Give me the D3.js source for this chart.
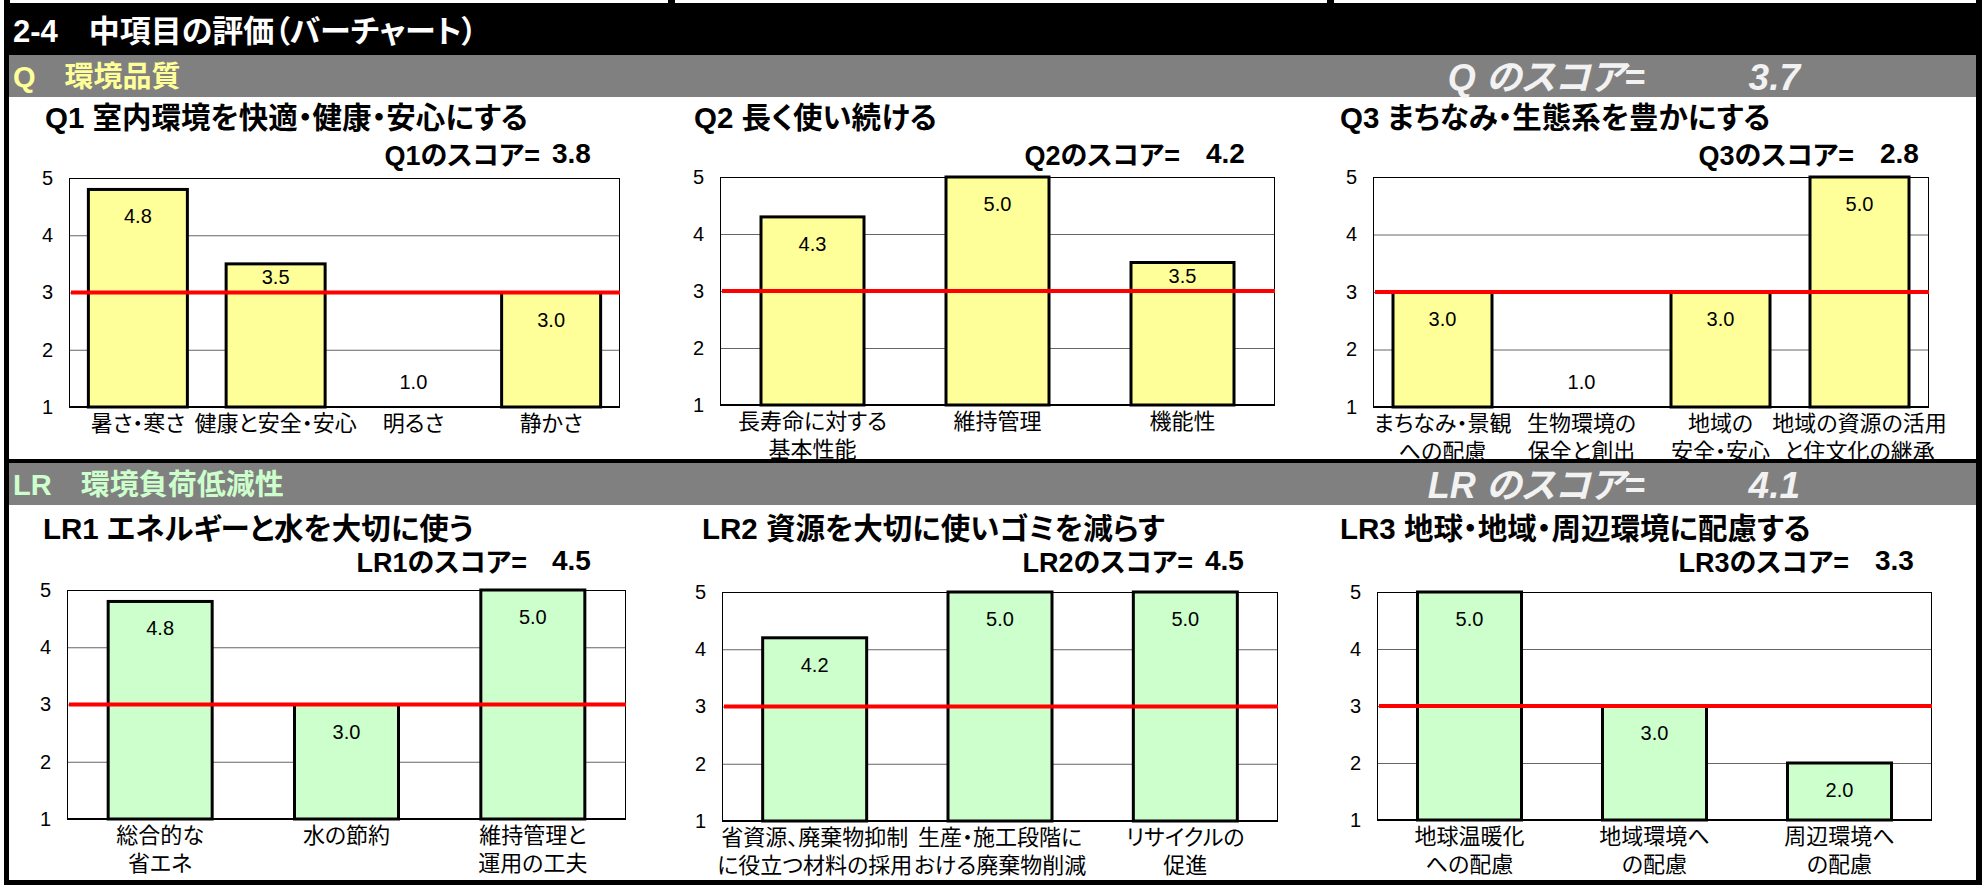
<!DOCTYPE html>
<html><head><meta charset="utf-8">
<script src="https://cdn.jsdelivr.net/npm/d3@7"></script>
<style>
html,body{margin:0;padding:0;background:#fff;}
svg{display:block;}
text{font-family:Arial,"Liberation Sans","Noto Sans CJK JP",sans-serif;font-feature-settings:"palt";}
</style></head>
<body>
<svg id="c" width="1982" height="885"></svg>
<script>
// ---------- data ----------
const pageTitle = "2-4　中項目の評価（バーチャート）";
const sectionNames = ["Q　環境品質", "LR　環境負荷低減性"];
const sectionScoreLabels = ["Q のスコア=", "LR のスコア="];
const sectionScores = [3.7, 4.1];

const chartTitles = ["Q1 室内環境を快適・健康・安心にする", "Q2 長く使い続ける", "Q3 まちなみ・生態系を豊かにする",
                     "LR1 エネルギーと水を大切に使う", "LR2 資源を大切に使いゴミを減らす", "LR3 地球・地域・周辺環境に配慮する"];
const scoreLabels = ["Q1のスコア=", "Q2のスコア=", "Q3のスコア=", "LR1のスコア=", "LR2のスコア=", "LR3のスコア="];
const chartScores = [3.8, 4.2, 2.8, 4.5, 4.5, 3.3];

const catsQ1 = ["暑さ・寒さ", "健康と安全・安心", "明るさ", "静かさ"];
const valsQ1 = [4.8, 3.5, 1.0, 3.0];
const catsQ2 = ["長寿命に対する\n基本性能", "維持管理", "機能性"];
const valsQ2 = [4.3, 5.0, 3.5];
const catsQ3 = ["まちなみ・景観\nへの配慮", "生物環境の\n保全と創出", "地域の\n安全・安心", "地域の資源の活用\nと住文化の継承"];
const valsQ3 = [3.0, 1.0, 3.0, 5.0];
const catsLR1 = ["総合的な\n省エネ", "水の節約", "維持管理と\n運用の工夫"];
const valsLR1 = [4.8, 3.0, 5.0];
const catsLR2 = ["省資源、廃棄物抑制\nに役立つ材料の採用", "生産・施工段階に\nおける廃棄物削減", "リサイクルの\n促進"];
const valsLR2 = [4.2, 5.0, 5.0];
const catsLR3 = ["地球温暖化\nへの配慮", "地域環境へ\nの配慮", "周辺環境へ\nの配慮"];
const valsLR3 = [5.0, 3.0, 2.0];

const yTicks = [1, 2, 3, 4, 5];
const referenceLevel = 3;

// ---------- layout ----------
const layout = [
  {cats: catsQ1, vals: valsQ1, left: 69,   right: 620,  top: 178, bottom: 407, titleX: 45,   lblEnd: 540,  valX: 552,  barW: 99,  fill: "#FFFF99"},
  {cats: catsQ2, vals: valsQ2, left: 720,  right: 1275, top: 177, bottom: 405, titleX: 694,  lblEnd: 1180, valX: 1206, barW: 103, fill: "#FFFF99"},
  {cats: catsQ3, vals: valsQ3, left: 1373, right: 1929, top: 177, bottom: 407, titleX: 1340, lblEnd: 1854, valX: 1880, barW: 99,  fill: "#FFFF99"},
  {cats: catsLR1, vals: valsLR1, left: 67,  right: 626,  top: 590, bottom: 819, titleX: 43,  lblEnd: 527,  valX: 552,  barW: 104, fill: "#CCFFCC"},
  {cats: catsLR2, vals: valsLR2, left: 722, right: 1278, top: 592, bottom: 821, titleX: 702, lblEnd: 1193, valX: 1205, barW: 104, fill: "#CCFFCC"},
  {cats: catsLR3, vals: valsLR3, left: 1377,right: 1932, top: 592, bottom: 820, titleX: 1340,lblEnd: 1849, valX: 1875, barW: 104, fill: "#CCFFCC"}
];
const rowTitleY = [117, 528];
const rowScoreY = [156, 563];
const bandY = [55, 463];
const bandH = 42;

const svg = d3.select("#c");
const W = 1982, H = 885;

// frame
svg.append("rect").attr("x", 0).attr("y", 0).attr("width", W).attr("height", H).attr("fill", "#fff");
svg.append("rect").attr("x", 4).attr("y", 0).attr("width", W - 4).attr("height", H).attr("fill", "#000");
svg.append("rect").attr("x", 10).attr("y", 0).attr("width", 1966).attr("height", 3).attr("fill", "#fff");
[668, 1327].forEach(x => svg.append("rect").attr("x", x).attr("y", 0).attr("width", 7).attr("height", 3).attr("fill", "#000"));

// page title
svg.append("text").attr("x", 13).attr("y", 31).attr("dominant-baseline", "central")
  .attr("fill", "#fff").attr("font-size", 31).attr("font-weight", "bold").text(pageTitle);

// section bands & white areas
svg.append("rect").attr("x", 9).attr("y", bandY[0]).attr("width", 1967).attr("height", bandH).attr("fill", "#808080");
svg.append("rect").attr("x", 9).attr("y", bandY[0] + bandH).attr("width", 1967).attr("height", 459 - (bandY[0] + bandH)).attr("fill", "#fff");
svg.append("rect").attr("x", 9).attr("y", bandY[1]).attr("width", 1967).attr("height", bandH).attr("fill", "#808080");
svg.append("rect").attr("x", 9).attr("y", bandY[1] + bandH).attr("width", 1967).attr("height", 880 - (bandY[1] + bandH)).attr("fill", "#fff");

const sectionColors = ["#FFFF99", "#CCFFCC"];
sectionNames.forEach((name, i) => {
  const cy = bandY[i] + bandH / 2 + 1;
  svg.append("text").attr("x", 13).attr("y", cy).attr("dominant-baseline", "central")
    .attr("fill", sectionColors[i]).attr("font-size", 29).attr("font-weight", "bold").text(name);
  svg.append("text").attr("x", 1645).attr("y", cy).attr("dominant-baseline", "central").attr("text-anchor", "end")
    .attr("fill", "#F2F2F2").attr("font-size", 36).attr("font-weight", "bold").attr("font-style", "italic")
    .text(sectionScoreLabels[i]);
  svg.append("text").attr("x", 1800).attr("y", cy).attr("dominant-baseline", "central").attr("text-anchor", "end")
    .attr("fill", "#F2F2F2").attr("font-size", 37).attr("font-weight", "bold").attr("font-style", "italic")
    .text(d3.format(".1f")(sectionScores[i]));
});

const fmt = d3.format(".1f");

layout.forEach((L, ci) => {
  const row = ci < 3 ? 0 : 1;
  const g = svg.append("g");
  const y = d3.scaleLinear().domain([1, 5]).range([L.bottom, L.top]);
  const step = (L.right - L.left) / L.cats.length;
  const p = 1 - L.barW / step;
  const x = d3.scaleBand().domain(L.cats).range([L.left, L.right]).paddingInner(p).paddingOuter(p / 2);

  // title
  g.append("text").attr("x", L.titleX).attr("y", rowTitleY[row]).attr("dominant-baseline", "central")
    .attr("font-size", 29.5).attr("font-weight", "bold").attr("fill", "#000").text(chartTitles[ci]);
  // score
  g.append("text").attr("x", L.lblEnd).attr("y", rowScoreY[row]).attr("dominant-baseline", "central").attr("text-anchor", "end")
    .attr("font-size", 27).attr("font-weight", "bold").attr("fill", "#000").text(scoreLabels[ci]);
  g.append("text").attr("x", L.valX).attr("y", rowScoreY[row] - 3).attr("dominant-baseline", "central")
    .attr("font-size", 28).attr("font-weight", "bold").attr("fill", "#000").text(fmt(chartScores[ci]));

  // gridlines
  const grid = g.append("g").attr("transform", `translate(${L.left},0)`)
    .call(d3.axisLeft(y).tickValues(yTicks.slice(1, -1)).tickSize(-(L.right - L.left)).tickFormat(""));
  grid.select(".domain").remove();
  grid.selectAll("line").attr("stroke", "#666").attr("stroke-width", 1);

  // y labels
  const ya = g.append("g").attr("transform", `translate(${L.left},0)`)
    .call(d3.axisLeft(y).tickValues(yTicks).tickSize(0).tickPadding(16).tickFormat(d3.format("d")));
  ya.select(".domain").remove();
  ya.selectAll("text").attr("font-size", 20).attr("fill", "#000")
    .style("font-family", "Arial, 'Liberation Sans', sans-serif");

  // plot border
  g.append("rect").attr("x", L.left + 0.5).attr("y", L.top + 0.5).attr("width", L.right - L.left - 1)
    .attr("height", L.bottom - L.top).attr("fill", "none").attr("stroke", "#000").attr("stroke-width", 1);

  // bars
  const data = L.cats.map((c, i) => ({c, v: L.vals[i]}));
  g.selectAll("rect.bar").data(data.filter(d => d.v > 1)).join("rect").attr("class", "bar")
    .attr("x", d => x(d.c)).attr("y", d => y(d.v))
    .attr("width", x.bandwidth()).attr("height", d => y(1) - y(d.v))
    .attr("fill", L.fill).attr("stroke", "#000").attr("stroke-width", 3);

  // bottom axis line
  g.append("line").attr("x1", L.left).attr("x2", L.right).attr("y1", L.bottom).attr("y2", L.bottom)
    .attr("stroke", "#000").attr("stroke-width", 2);

  // reference line
  g.append("line").attr("x1", L.left + 2).attr("x2", L.right).attr("y1", y(referenceLevel)).attr("y2", y(referenceLevel))
    .attr("stroke", "#FF0000").attr("stroke-width", 4);

  // value labels
  g.selectAll("text.val").data(data).join("text").attr("class", "val")
    .attr("x", d => x(d.c) + x.bandwidth() / 2)
    .attr("y", d => {
      if (d.v <= 1) return y(d.v) - 25;
      const ly = y(d.v) + 27;
      return Math.abs(ly - y(referenceLevel)) < 12 ? y(d.v) + 13 : ly;
    })
    .attr("text-anchor", "middle").attr("dominant-baseline", "central")
    .attr("font-size", 20).attr("fill", "#000")
    .style("font-family", "Arial, 'Liberation Sans', sans-serif")
    .text(d => fmt(d.v));

  // category labels
  const xa = g.append("g").attr("transform", `translate(0,${L.bottom})`)
    .call(d3.axisBottom(x).tickSize(0).tickFormat(""));
  xa.select(".domain").remove();
  xa.selectAll(".tick").each(function(d) {
    const t = d3.select(this).append("text").attr("fill", "#000").attr("font-size", 22)
      .attr("text-anchor", "middle").attr("dominant-baseline", "central");
    d.split("\n").forEach((line, li) => {
      t.append("tspan").attr("x", 0).attr("y", 16 + li * 28).text(line);
    });
  });
});
</script>
</body></html>
